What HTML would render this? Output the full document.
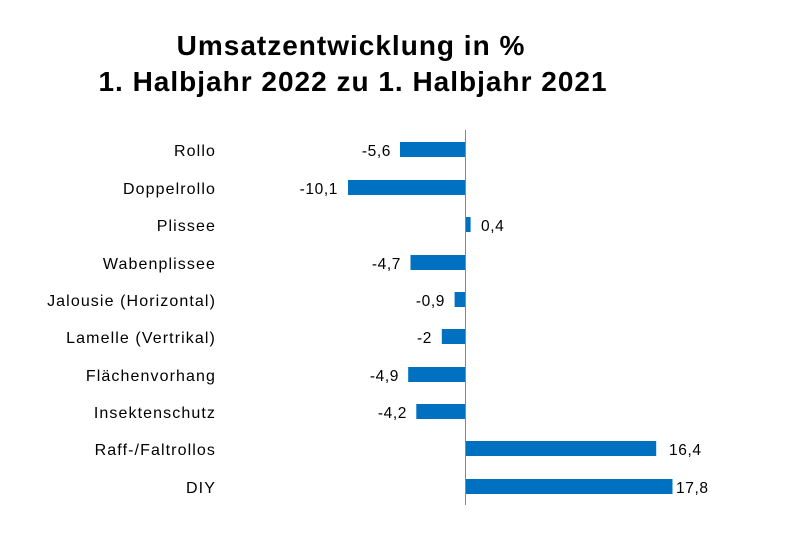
<!DOCTYPE html>
<html><head><meta charset="utf-8"><style>
html,body{margin:0;padding:0;background:#fff;}
svg{display:block;}
</style></head><body>
<svg width="804" height="550" xmlns="http://www.w3.org/2000/svg">
<rect width="804" height="550" fill="#fff"/>
<g font-family="Liberation Sans, Arial, sans-serif" font-weight="bold" font-size="28" letter-spacing="1" text-anchor="middle" fill="#000">
<text x="351" y="55">Umsatzentwicklung in %</text>
<text x="353" y="91">1. Halbjahr 2022 zu 1. Halbjahr 2021</text>
</g>
<line x1="465.5" y1="130" x2="465.5" y2="505" stroke="#888" stroke-width="1"/>
<g font-family="Liberation Sans, Arial, sans-serif" font-size="16" letter-spacing="1.1" text-anchor="end" fill="#000">
<text x="216" y="156">Rollo</text>
<text x="216" y="194">Doppelrollo</text>
<text x="216" y="231">Plissee</text>
<text x="216" y="269">Wabenplissee</text>
<text x="216" y="306">Jalousie (Horizontal)</text>
<text x="216" y="343">Lamelle (Vertrikal)</text>
<text x="216" y="381">Flächenvorhang</text>
<text x="216" y="418">Insektenschutz</text>
<text x="216" y="455">Raff-/Faltrollos</text>
<text x="216" y="493">DIY</text>
</g>
<g fill="#0070c0">
<rect x="400" y="142" width="65" height="15"/>
<rect x="348" y="180" width="117" height="15"/>
<rect x="466" y="217" width="4.6" height="15"/>
<rect x="410.5" y="255" width="54.5" height="15"/>
<rect x="454.6" y="292" width="10.4" height="15"/>
<rect x="441.8" y="329" width="23.2" height="15"/>
<rect x="408.2" y="367" width="56.8" height="15"/>
<rect x="416.3" y="404" width="48.7" height="15"/>
<rect x="466" y="441" width="190.2" height="15"/>
<rect x="466" y="479" width="206.5" height="15"/>
</g>
<g font-family="Liberation Sans, Arial, sans-serif" font-size="15.5" letter-spacing="0.6" fill="#000">
<g text-anchor="end">
<text x="391" y="156">-5,6</text>
<text x="338" y="194">-10,1</text>
<text x="401" y="269">-4,7</text>
<text x="445" y="306">-0,9</text>
<text x="432" y="343">-2</text>
<text x="399" y="381">-4,9</text>
<text x="407" y="418">-4,2</text>
</g>
<text x="481" y="231">0,4</text>
<text x="669" y="455">16,4</text>
<text x="676" y="493">17,8</text>
</g>
</svg>
</body></html>
